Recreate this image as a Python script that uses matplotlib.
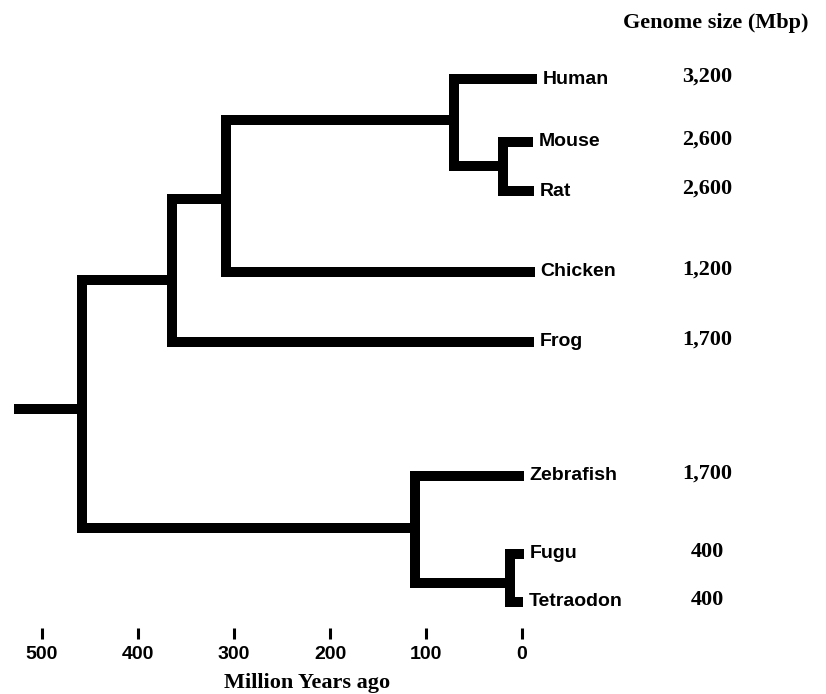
import matplotlib
matplotlib.use("Agg")
import matplotlib.pyplot as plt

# tips of the tree, top to bottom
species = ['Human', 'Mouse', 'Rat', 'Chicken', 'Frog', 'Zebrafish', 'Fugu', 'Tetraodon']
genome_mbp = [3200, 2600, 2600, 1200, 1700, 1700, 400, 400]
# where each tip line stops (Myr ago, the drawing runs a bit past 0)
tip_end = [-15.5, -11.5, -12.5, -13.5, -12.5, -2, -2, -1]

# internal nodes: name -> (age in Myr ago, children)
nodes = {
    'rodents':    (20,   ['Mouse', 'Rat']),
    'mammals':    (71,   ['Human', 'rodents']),
    'amniotes':   (308,  ['mammals', 'Chicken']),
    'tetrapods':  (365,  ['amniotes', 'Frog']),
    'puffers':    (12.5, ['Fugu', 'Tetraodon']),
    'teleosts':   (112,  ['Zebrafish', 'puffers']),
    'root':       (458,  ['tetrapods', 'teleosts']),
}
root_stem_start = 529

# vertical layout (rows, top = small), tips then internal nodes
tip_rows = [79, 142, 191, 272, 342, 476, 554, 602]
node_rows = {'rodents': 166, 'mammals': 120, 'amniotes': 199, 'tetrapods': 280,
             'puffers': 583, 'teleosts': 528, 'root': 409}

x_ticks = [500, 400, 300, 200, 100, 0]

LW = 7.2
sans = 'Liberation Sans'
serif = 'Liberation Serif'

pos = {}
for name, x, y in zip(species, tip_end, tip_rows):
    pos[name] = (x, y)
for name, (age, kids) in nodes.items():
    pos[name] = (age, node_rows[name])

fig = plt.figure(figsize=(8.26, 6.94), dpi=100)
ax = fig.add_axes([0, 66 / 694, 614 / 826, 628 / 694])

# brackets
for name, (age, kids) in nodes.items():
    (x1, y1), (x2, y2) = pos[kids[0]], pos[kids[1]]
    ax.plot([x1, age, age, x2], [y1, y1, y2, y2], color='black', lw=LW,
            solid_joinstyle='miter', solid_capstyle='butt')

rx, ry = pos['root']
ax.plot([root_stem_start, rx], [ry, ry], color='black', lw=LW, solid_capstyle='butt')

# tip names and genome sizes
for name, size in zip(species, genome_mbp):
    x, y = pos[name]
    ax.annotate(name, (x, y), xytext=(4, 0), textcoords='offset points',
                ha='left', va='center', fontsize=14, fontweight='bold', family=sans)
    ax.text(-192.7, y - 2, f"{size:,}", ha='center', va='center',
            fontsize=16, fontweight='bold', family=serif)

ax.text(-202, 23, 'Genome size (Mbp)', ha='center', va='center',
        fontsize=16, fontweight='bold', family=serif)

ax.set_xlim(543.75, -95.8)
ax.set_ylim(628, 0)
ax.set_xticks(x_ticks)
ax.set_xticklabels([str(t) for t in x_ticks], fontsize=14, fontweight='bold', family=sans)
ax.tick_params(axis='x', bottom=True, direction='out', length=8, width=2.2,
               color='#000000', pad=5)
ax.set_yticks([])
for s in ax.spines.values():
    s.set_visible(False)
ax.set_xlabel('Million Years ago', fontsize=16, fontweight='bold', family=serif, labelpad=7)

fig.savefig('out.png', dpi=100)
